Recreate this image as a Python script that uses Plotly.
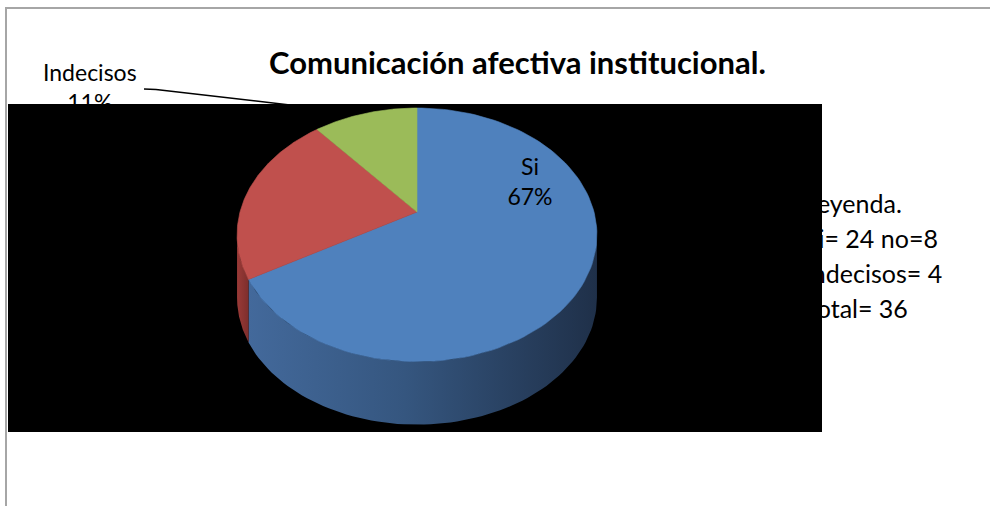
import numpy as np
import plotly.graph_objects as go

# ---------------- data ----------------
labels = ["Si", "No", "Indecisos"]
values = [24, 8, 4]
top_colors = ["#4f81bd", "#c0504d", "#9bbb59"]
side_scales = [
    [[0, "#43699b"], [0.45, "#35567f"], [1, "#1f3049"]],
    [[0, "#9a3a37"], [1, "#7d2e2c"]],
    [[0, "#6f8a3c"], [1, "#5a7231"]],
]
legend_lines = ["Leyenda.", "Si= 24 no=8", "Indecisos= 4", "Total= 36"]
title_text = "Comunicación afectiva institucional."

# ---------------- geometry (page pixels) ----------------
W, H = 990, 506
L, R, T, B = 8, 168, 104, 74           # black plot area = margins
PW, PH = W - L - R, H - T - B
CX, CY = 417, 212                      # apex of the pie top
RX, RY = 177, 122.7                    # radii of the top face
K = 0.18                               # perspective strength
DEPTH = 63                             # thickness of the pie

FONT = "Lato"


def px(x):
    return (x - L) / PW


def py(y):
    return (H - B - y) / PH


def proj(theta_deg, r=1.0, dy=0.0):
    t = np.radians(theta_deg)
    den = 1 + K * r * np.sin(t)
    x = CX + RX * r * np.cos(t) / den
    y = CY - RY * r * np.sin(t) / den + dy
    return x, y


total = sum(values)
# slices start at 12 o'clock and run clockwise
starts, ends = [], []
a = 90.0
for v in values:
    starts.append(a)
    a -= 360.0 * v / total
    ends.append(a)

front_lo = -180 + np.degrees(np.arcsin(K))     # left silhouette
front_hi = -np.degrees(np.arcsin(K))           # right silhouette

fig = go.Figure()

# side walls
for i in range(len(values)):
    lo_s, hi_s = ends[i], starts[i]
    for shift in (0, 360, -360):
        lo = max(lo_s + shift, front_lo)
        hi = min(hi_s + shift, front_hi)
        if hi > lo:
            th = np.linspace(lo, hi, 80)
            xt, yt = proj(th)
            xb, yb = proj(th[::-1], dy=DEPTH)
            fig.add_trace(go.Scatter(
                x=np.concatenate([xt, xb, xt[:1]]),
                y=np.concatenate([yt, yb, yt[:1]]),
                mode="lines", line=dict(width=0),
                fill="toself",
                fillgradient=dict(type="horizontal", colorscale=side_scales[i]),
                hoverinfo="skip", showlegend=False))

# top faces
for i in range(len(values)):
    th = np.linspace(starts[i], ends[i], 120)
    xs, ys = proj(th)
    fig.add_trace(go.Scatter(
        x=np.concatenate([[CX], xs, [CX]]),
        y=np.concatenate([[CY], ys, [CY]]),
        mode="lines", line=dict(width=0.6, color=top_colors[i]),
        fill="toself", fillcolor=top_colors[i],
        hoverinfo="skip", showlegend=False))

pct = [round(100 * v / total) for v in values]

# label inside the blue slice
fig.add_trace(go.Scatter(
    x=[530], y=[184], mode="text",
    text=[f"{labels[0]}<br>{pct[0]}%"],
    textfont=dict(family=FONT, size=23, color="black"),
    hoverinfo="skip", showlegend=False))

annotations = [
    dict(text=f"<b>{title_text}</b>", x=px(517), y=py(62), xref="paper", yref="paper",
         xanchor="center", yanchor="middle", showarrow=False,
         font=dict(family=FONT, size=31, color="black")),
    dict(text=f"{labels[2]}<br>{pct[2]}%", x=px(90), y=py(87), xref="paper", yref="paper",
         xanchor="center", yanchor="middle", showarrow=False,
         font=dict(family=FONT, size=23, color="black")),
]
for j, line in enumerate(legend_lines):
    annotations.append(dict(
        text=line, x=px(803), y=py(203 + 35 * j), xref="paper", yref="paper",
        xanchor="left", yanchor="middle", showarrow=False,
        font=dict(family=FONT, size=25, color="black")))

shapes = [
    # outer frame (top and left edges visible)
    dict(type="path", xref="paper", yref="paper",
         path=f"M {px(6)} {py(H + 5)} L {px(6)} {py(8)} L {px(W + 5)} {py(8)}",
         line=dict(color="#a6a6a6", width=2)),
    # leader line for "Indecisos"
    dict(type="path", xref="paper", yref="paper",
         path=f"M {px(144)} {py(89)} L {px(156)} {py(89.5)} L {px(290)} {py(105)}",
         line=dict(color="black", width=1.5)),
]

fig.update_layout(
    width=W, height=H,
    margin=dict(l=L, r=R, t=T, b=B, pad=0),
    paper_bgcolor="white", plot_bgcolor="black",
    xaxis=dict(range=[L, W - R], visible=False, fixedrange=True),
    yaxis=dict(range=[H - B, T], visible=False, fixedrange=True),
    annotations=annotations, shapes=shapes,
    showlegend=False,
)

fig.write_html("out.html")
